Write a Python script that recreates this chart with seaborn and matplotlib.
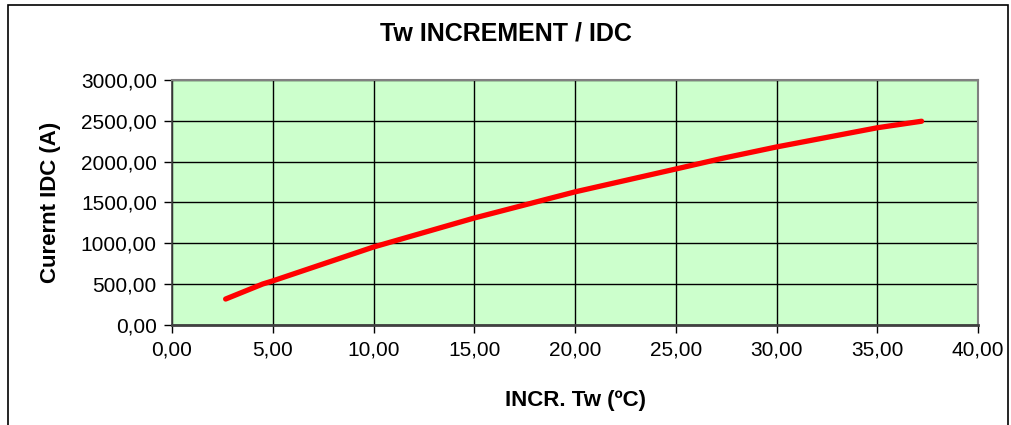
import matplotlib
matplotlib.use("Agg")
import matplotlib.pyplot as plt
import matplotlib.ticker as mticker
from matplotlib.patches import Rectangle
import seaborn as sns
import pandas as pd

# values
incr_tw = [2.66, 4.5, 5.0, 10.0, 15.0, 20.0, 25.0, 27.3, 30.0, 35.0, 37.2]
idc = [318, 502, 540, 955, 1310, 1630, 1910, 2040, 2180, 2415, 2495]
x_ticks = [0, 5, 10, 15, 20, 25, 30, 35, 40]
y_ticks = [0, 500, 1000, 1500, 2000, 2500, 3000]

sns.set_style("white")
plt.rcParams['font.family'] = ['Liberation Sans', 'DejaVu Sans']
plt.rcParams['text.color'] = 'black'
plt.rcParams['axes.labelcolor'] = 'black'
plt.rcParams['xtick.color'] = 'black'
plt.rcParams['ytick.color'] = 'black'

df = pd.DataFrame({"incr": incr_tw, "idc": idc})

fig = plt.figure(figsize=(10.12, 4.25), dpi=100)
ax = fig.add_axes([0.170, 0.2353, 0.7964, 0.5765])
ax.set_facecolor("#CCFFCC")

sns.lineplot(data=df, x="incr", y="idc", ax=ax, color="#FF0000", lw=3.8,
             sort=False, estimator=None, solid_capstyle="round",
             solid_joinstyle="round")

ax.set_xlim(0, 40)
ax.set_ylim(0, 3000)
ax.set_xticks(x_ticks)
ax.set_yticks(y_ticks)
comma = mticker.FuncFormatter(lambda v, p: ("%.2f" % v).replace(".", ","))
ax.xaxis.set_major_formatter(comma)
ax.yaxis.set_major_formatter(comma)
ax.grid(True, color="black", lw=1.0)
ax.set_axisbelow(True)

ax.tick_params(axis="both", direction="out", length=6, width=1,
               color="black", labelsize=15, pad=5, bottom=True, left=True)

for side in ["top", "right"]:
    ax.spines[side].set_color("#808080")
    ax.spines[side].set_linewidth(1.5)
ax.spines["left"].set_color("#404040")
ax.spines["left"].set_linewidth(1.2)
ax.spines["bottom"].set_color("#404040")
ax.spines["bottom"].set_linewidth(2)

ax.set_xlabel("INCR. Tw (ºC)", fontsize=16, fontweight="bold", labelpad=22)
ax.set_ylabel("Curernt IDC (A)", fontsize=16, fontweight="bold", labelpad=14)
fig.text(0.5, 0.922, "Tw INCREMENT / IDC", ha="center", va="center",
         fontsize=18, fontweight="bold")

# outer chart border
fig.patches.append(Rectangle((8 / 1012, -0.05), 1000 / 1012, 1.05 - 5 / 425,
                             transform=fig.transFigure, fill=False,
                             edgecolor="black", lw=1.2))

fig.savefig("out.png", dpi=100)
